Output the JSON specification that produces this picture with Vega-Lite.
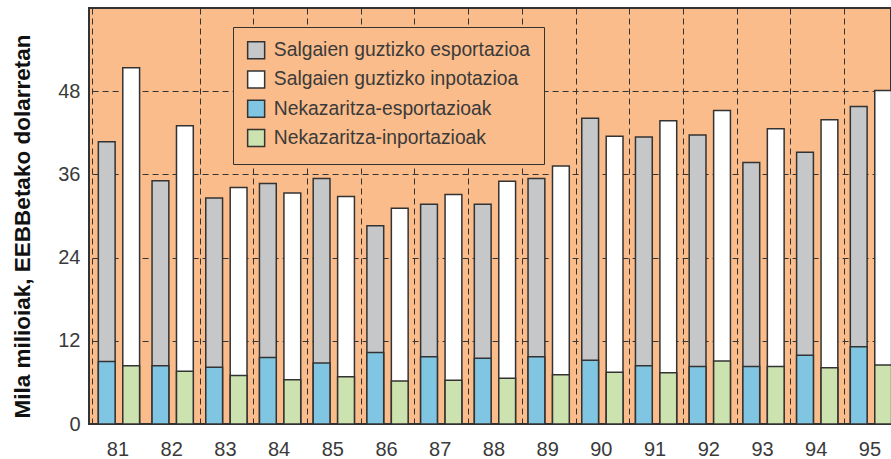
{
  "$schema": "https://vega.github.io/schema/vega-lite/v6.json",
  "width": 802,
  "height": 416,
  "autosize": {"type": "none"},
  "padding": {"left": 89, "top": 8, "right": 0, "bottom": 35},
  "background": "#ffffff",
  "config": {
    "view": {"fill": "#FABC8A", "stroke": "#333333", "strokeWidth": 2},
    "font": "Liberation Sans"
  },
  "data": {
    "values": [
      {"year": "81", "flow": "E", "kind": "Salgaien guztizko esportazioa", "value": 40.7},
      {"year": "82", "flow": "E", "kind": "Salgaien guztizko esportazioa", "value": 35.1},
      {"year": "83", "flow": "E", "kind": "Salgaien guztizko esportazioa", "value": 32.6},
      {"year": "84", "flow": "E", "kind": "Salgaien guztizko esportazioa", "value": 34.7},
      {"year": "85", "flow": "E", "kind": "Salgaien guztizko esportazioa", "value": 35.4},
      {"year": "86", "flow": "E", "kind": "Salgaien guztizko esportazioa", "value": 28.6},
      {"year": "87", "flow": "E", "kind": "Salgaien guztizko esportazioa", "value": 31.7},
      {"year": "88", "flow": "E", "kind": "Salgaien guztizko esportazioa", "value": 31.7},
      {"year": "89", "flow": "E", "kind": "Salgaien guztizko esportazioa", "value": 35.4},
      {"year": "90", "flow": "E", "kind": "Salgaien guztizko esportazioa", "value": 44.1},
      {"year": "91", "flow": "E", "kind": "Salgaien guztizko esportazioa", "value": 41.4},
      {"year": "92", "flow": "E", "kind": "Salgaien guztizko esportazioa", "value": 41.7},
      {"year": "93", "flow": "E", "kind": "Salgaien guztizko esportazioa", "value": 37.7},
      {"year": "94", "flow": "E", "kind": "Salgaien guztizko esportazioa", "value": 39.2},
      {"year": "95", "flow": "E", "kind": "Salgaien guztizko esportazioa", "value": 45.8},
      {"year": "81", "flow": "I", "kind": "Salgaien guztizko inpotazioa", "value": 51.4},
      {"year": "82", "flow": "I", "kind": "Salgaien guztizko inpotazioa", "value": 43.0},
      {"year": "83", "flow": "I", "kind": "Salgaien guztizko inpotazioa", "value": 34.1},
      {"year": "84", "flow": "I", "kind": "Salgaien guztizko inpotazioa", "value": 33.3},
      {"year": "85", "flow": "I", "kind": "Salgaien guztizko inpotazioa", "value": 32.8},
      {"year": "86", "flow": "I", "kind": "Salgaien guztizko inpotazioa", "value": 31.1},
      {"year": "87", "flow": "I", "kind": "Salgaien guztizko inpotazioa", "value": 33.1},
      {"year": "88", "flow": "I", "kind": "Salgaien guztizko inpotazioa", "value": 35.0},
      {"year": "89", "flow": "I", "kind": "Salgaien guztizko inpotazioa", "value": 37.2},
      {"year": "90", "flow": "I", "kind": "Salgaien guztizko inpotazioa", "value": 41.5},
      {"year": "91", "flow": "I", "kind": "Salgaien guztizko inpotazioa", "value": 43.75},
      {"year": "92", "flow": "I", "kind": "Salgaien guztizko inpotazioa", "value": 45.2},
      {"year": "93", "flow": "I", "kind": "Salgaien guztizko inpotazioa", "value": 42.6},
      {"year": "94", "flow": "I", "kind": "Salgaien guztizko inpotazioa", "value": 43.9},
      {"year": "95", "flow": "I", "kind": "Salgaien guztizko inpotazioa", "value": 48.1},
      {"year": "81", "flow": "E", "kind": "Nekazaritza-esportazioak", "value": 9.0},
      {"year": "82", "flow": "E", "kind": "Nekazaritza-esportazioak", "value": 8.4},
      {"year": "83", "flow": "E", "kind": "Nekazaritza-esportazioak", "value": 8.2},
      {"year": "84", "flow": "E", "kind": "Nekazaritza-esportazioak", "value": 9.6},
      {"year": "85", "flow": "E", "kind": "Nekazaritza-esportazioak", "value": 8.8},
      {"year": "86", "flow": "E", "kind": "Nekazaritza-esportazioak", "value": 10.3},
      {"year": "87", "flow": "E", "kind": "Nekazaritza-esportazioak", "value": 9.7},
      {"year": "88", "flow": "E", "kind": "Nekazaritza-esportazioak", "value": 9.5},
      {"year": "89", "flow": "E", "kind": "Nekazaritza-esportazioak", "value": 9.7},
      {"year": "90", "flow": "E", "kind": "Nekazaritza-esportazioak", "value": 9.2},
      {"year": "91", "flow": "E", "kind": "Nekazaritza-esportazioak", "value": 8.4},
      {"year": "92", "flow": "E", "kind": "Nekazaritza-esportazioak", "value": 8.3},
      {"year": "93", "flow": "E", "kind": "Nekazaritza-esportazioak", "value": 8.3},
      {"year": "94", "flow": "E", "kind": "Nekazaritza-esportazioak", "value": 9.9},
      {"year": "95", "flow": "E", "kind": "Nekazaritza-esportazioak", "value": 11.15},
      {"year": "81", "flow": "I", "kind": "Nekazaritza-inportazioak", "value": 8.4},
      {"year": "82", "flow": "I", "kind": "Nekazaritza-inportazioak", "value": 7.6},
      {"year": "83", "flow": "I", "kind": "Nekazaritza-inportazioak", "value": 7.0},
      {"year": "84", "flow": "I", "kind": "Nekazaritza-inportazioak", "value": 6.4},
      {"year": "85", "flow": "I", "kind": "Nekazaritza-inportazioak", "value": 6.8},
      {"year": "86", "flow": "I", "kind": "Nekazaritza-inportazioak", "value": 6.2},
      {"year": "87", "flow": "I", "kind": "Nekazaritza-inportazioak", "value": 6.3},
      {"year": "88", "flow": "I", "kind": "Nekazaritza-inportazioak", "value": 6.6},
      {"year": "89", "flow": "I", "kind": "Nekazaritza-inportazioak", "value": 7.1},
      {"year": "90", "flow": "I", "kind": "Nekazaritza-inportazioak", "value": 7.45},
      {"year": "91", "flow": "I", "kind": "Nekazaritza-inportazioak", "value": 7.4},
      {"year": "92", "flow": "I", "kind": "Nekazaritza-inportazioak", "value": 9.1},
      {"year": "93", "flow": "I", "kind": "Nekazaritza-inportazioak", "value": 8.3},
      {"year": "94", "flow": "I", "kind": "Nekazaritza-inportazioak", "value": 8.1},
      {"year": "95", "flow": "I", "kind": "Nekazaritza-inportazioak", "value": 8.5}
    ]
  },
  "mark": {"type": "bar", "stroke": "#333333", "strokeWidth": 1.5, "opacity": 1},
  "encoding": {
    "x": {
      "field": "year",
      "type": "ordinal",
      "scale": {"range": [3.1, 808.8], "paddingInner": 0, "paddingOuter": 0},
      "axis": {
        "title": null,
        "domain": false,
        "ticks": false,
        "labelAngle": 0,
        "labelFontSize": 20,
        "labelColor": "#3a3a3a",
        "labelPadding": 15,
        "labelOffset": -1.5,
        "tickBand": "extent",
        "grid": true,
        "gridColor": "#333333",
        "gridDash": [6, 4],
        "gridWidth": 1,
        "gridOpacity": {"condition": {"test": "datum.value === '81'", "value": 0}, "value": 1}
      }
    },
    "xOffset": {
      "field": "flow",
      "type": "nominal",
      "scale": {"domain": ["E", "I"], "paddingInner": 0.313, "paddingOuter": 0.255}
    },
    "y": {
      "field": "value",
      "type": "quantitative",
      "stack": null,
      "scale": {"domain": [0, 60], "nice": false},
      "axis": {
        "title": "Mila milioiak, EEBBetako dolarretan",
        "titleFontSize": 22.5,
        "titleFontWeight": "bold",
        "titleColor": "#111111",
        "titleAngle": -90,
        "titleAlign": "center",
        "titleBaseline": "middle",
        "titleX": -67,
        "titleY": 218,
        "values": [0, 12, 24, 36, 48],
        "domain": false,
        "ticks": false,
        "labelFontSize": 20,
        "labelColor": "#3a3a3a",
        "labelPadding": 9,
        "grid": true,
        "gridColor": "#333333",
        "gridDash": [6, 4],
        "gridWidth": 1
      }
    },
    "color": {
      "field": "kind",
      "type": "nominal",
      "scale": {
        "domain": ["Salgaien guztizko esportazioa", "Salgaien guztizko inpotazioa", "Nekazaritza-esportazioak", "Nekazaritza-inportazioak"],
        "range": ["#C6C7C9", "#FFFFFF", "#80C6E2", "#CDE3AF"]
      },
      "legend": {
        "title": null,
        "orient": "none",
        "legendX": 144,
        "legendY": 19,
        "padding": 13.5,
        "fillColor": "#FABC8A",
        "strokeColor": "#333333",
        "symbolType": "square",
        "symbolSize": 289,
        "symbolStrokeColor": "#333333",
        "symbolStrokeWidth": 1.5,
        "symbolOpacity": 1,
        "labelFontSize": 19.3,
        "labelColor": "#3a3a3a",
        "labelOffset": 8,
        "rowPadding": 5.3,
        "labelLimit": 400
      }
    }
  }
}
